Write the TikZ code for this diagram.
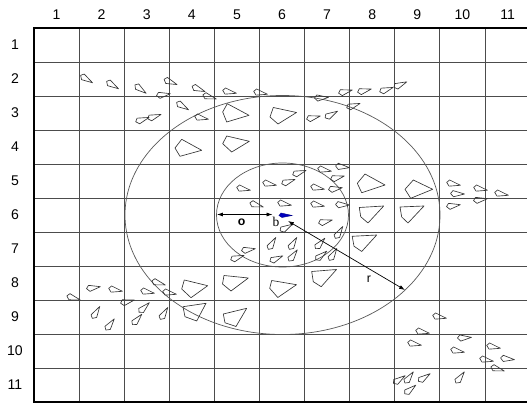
\documentclass[tikz,border=0pt]{standalone}
\usepackage{fontspec}
\setmainfont{Liberation Sans}
\newfontfamily\serifb{Liberation Serif}
\usetikzlibrary{arrows.meta}

\begin{document}
\begin{tikzpicture}[x=0.03cm, y=-0.03cm,
  gridline/.style={black!70, line width=0.7pt},
  frame/.style={black, line width=2.3pt},
  ring/.style={black!65, line width=0.6pt},
  fishline/.style={black!80, line width=0.55pt, line join=round},
  focal/.style={fill=blue!75!black, draw=blue!55!black, line width=0.4pt},
  dim/.style={line width=0.6pt, {Latex[length=5pt,width=3.4pt]}-{Latex[length=5pt,width=3.4pt]}},
  axislabel/.style={font=\fontsize{12}{14}\selectfont, inner sep=0pt},
  sfish/.pic={\draw[fishline] (7.5,0) -- (-4,-3.4) -- (-6.5,-0.5) -- (-3.5,2.8) -- cycle;}]
  \useasboundingbox (0,0) rectangle (527,404);

  % grid of cells, 45.1 x 34 px
  \foreach \i in {1,...,10}
    \draw[gridline] ({34+45.1*\i},28) -- ({34+45.1*\i},402);
  \foreach \j in {1,...,10}
    \draw[gridline] (34,{28+34*\j}) -- (527,{28+34*\j});
  \draw[frame] (527,28) -- (34,28) -- (34,402) -- (527,402);

  \foreach \i in {1,...,11}
    \node[axislabel] (col\i) at ({34+45.1*(\i-0.5)},14.5) {\i};
  \foreach \j in {1,...,11}
    \node[axislabel] (row\j) at (15,{28+34*(\j-0.5)}) {\j};

  % zones round the focal fish
  \coordinate (C) at (282.5,215);
  \coordinate (F) at (285,215.5);
  \coordinate (W) at (217,214.5);
  \coordinate (P) at (272.5,214.5);
  \coordinate (Q) at (288,221);
  \coordinate (R) at (405,290);
  \draw[ring] (C) ellipse [x radius=4.725cm, y radius=3.585cm];
  \draw[ring] (C) ellipse [x radius=1.98cm, y radius=1.56cm];

  % small fish: x/y/rotation
  \foreach \x/\y/\a in {86/79/-30, 112/85/-30, 140/89/-35, 170/82/-20, 163/95/10,
      198/89/-20, 209/97/-15, 182/106/-30, 229/92/-10, 260/93/-10, 142/120/20,
      154/117/20, 201/118/-10, 321/98/5, 345/92/15, 364/91/15, 386/90/20,
      400/85/25, 353/106/20, 313/118/15, 331/115/30,
      243/189/-10, 269/184/-10, 288/182/20, 299/173/20, 324/170/-10, 342/167/-5,
      317/188/-10, 337/178/15, 335/189/10, 256/205/-15, 284/204/-10, 317/205/-10,
      342/205/0, 325/222/15, 286/228/30,
      453/184/-10, 457/194/0, 453/206/10, 480/189/-10, 480/200/10, 501/194/-10,
      272/244/60, 293/244/60, 276/259/25, 293/256/55, 320/244/50, 321/256/40,
      333/255/60, 339/233/60, 248/250/10, 237/258/20,
      73/298/-15, 93/288/10, 115/290/-10, 127/302/15, 147/292/-10, 158/283/-15,
      169/293/-10, 96/313/60, 110/325/55, 144/308/45, 137/320/50, 164/314/60,
      439/317/-10, 422/332/-10, 414/344/-10, 464/338/5, 457/351/-10, 493/347/-10,
      486/360/-10, 507/359/-5, 497/369/-15, 399/380/35, 409/378/55, 424/378/35,
      410/390/40, 460/378/55}
    \pic[rotate=\a] at (\x,\y) {sfish};

  % large fish
  \draw[fishline] (227.3,103.7) -- (249,115.3) -- (226.7,122) -- (222.7,112) -- cycle;
  \draw[fishline] (273.3,107.5) -- (296.5,112.5) -- (278,124) -- (270,117) -- cycle;
  \draw[fishline] (181.7,139.3) -- (201.7,150.3) -- (180,156.3) -- (175,148) -- cycle;
  \draw[fishline] (226.7,136) -- (249.3,141.3) -- (231.7,152) -- (222.7,143.7) -- cycle;
  \draw[fishline] (365,174) -- (385,185) -- (361.7,192.7) -- (357.3,183.3) -- cycle;
  \draw[fishline] (413.3,180) -- (432.7,189.3) -- (410.7,198.3) -- (405,189.3) -- cycle;
  \draw[fishline] (359.3,207.5) -- (383.7,206) -- (368,223) -- (360.7,216.7) -- cycle;
  \draw[fishline] (400,207) -- (424,206) -- (408,223) -- (401.7,217) -- cycle;
  \draw[fishline] (352.2,236.3) -- (376.7,235) -- (361.7,251.5) -- (354,246.2) -- cycle;
  \draw[fishline] (311.7,271.5) -- (336.5,269.5) -- (321.2,286.7) -- (313.3,281.7) -- cycle;
  \draw[fishline] (271.7,280.5) -- (296.5,284.7) -- (277.8,297.5) -- (269.7,288.3) -- cycle;
  \draw[fishline] (224,275.5) -- (248.3,278) -- (231,291) -- (222.5,284) -- cycle;
  \draw[fishline] (184.3,280) -- (207.7,285.7) -- (191,297.7) -- (181.7,289) -- cycle;
  \draw[fishline] (183,306.7) -- (206,303.3) -- (196.7,321) -- (185,316.7) -- cycle;
  \draw[fishline] (223.3,314) -- (246.7,308.3) -- (236,326.5) -- (225,322.8) -- cycle;

  % focal fish and its ranges
  \filldraw[focal, shift={(F)}] (7,0) -- (-4,-2.5) -- (-6,0) -- (-3,2) -- cycle;
  \draw[dim] (W) -- (P);
  \draw[dim] (Q) -- (R);
  \node[font=\bfseries\fontsize{10.5}{12}\selectfont] (o) at (241.7,222.5) {o};
  \node[font=\serifb\fontsize{11.5}{13}\selectfont] (b) at (276,221.5) {b};
  \node[font=\fontsize{10.5}{12}\selectfont] (r) at (369,279.5) {r};
\end{tikzpicture}
\end{document}
